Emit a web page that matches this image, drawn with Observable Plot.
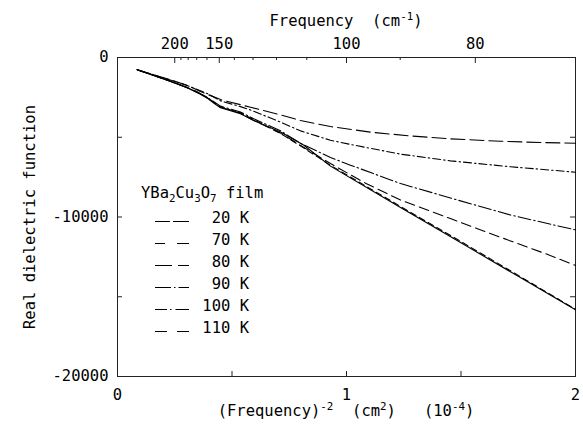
<!DOCTYPE html>
<html><head><meta charset="utf-8">
<script src="https://cdn.jsdelivr.net/npm/d3@7"></script>
<script src="https://cdn.jsdelivr.net/npm/@observablehq/plot@0.6"></script>
<style>
body{margin:0;background:#fff;}
#chart svg{font-family:"DejaVu Sans Mono",monospace;}
</style></head><body><div id="chart"></div>
<script>
// ---- data ----
const seriesNames = ["20 K","70 K","80 K","90 K","100 K","110 K"];
const x20 = [0.086,0.202,0.304,0.362,0.392,0.42,0.45,0.537,0.595,0.712,0.814,0.93,1.236,1.5,1.75,2];
const y20 = [-770,-1350,-1900,-2300,-2550,-2850,-3150,-3520,-3950,-4670,-5500,-6810,-9410,-11620,-13720,-15810];
const x70 = [0.086,0.202,0.304,0.362,0.392,0.42,0.45,0.537,0.595,0.712,0.814,0.93,1.236,1.5,1.75,2];
const y70 = [-770,-1320,-1870,-2260,-2510,-2800,-3100,-3470,-3900,-4760,-5680,-6760,-9340,-11540,-13660,-15790];
const x80 = [0.086,0.202,0.304,0.362,0.392,0.45,0.537,0.595,0.712,0.814,0.93,1.083,1.236,1.454,1.716,1.869,2];
const y80 = [-770,-1340,-1890,-2280,-2530,-3120,-3490,-3950,-4740,-5640,-6650,-7880,-8940,-10100,-11500,-12300,-13040];
const x90 = [0.086,0.202,0.304,0.362,0.392,0.45,0.537,0.595,0.712,0.799,0.93,1.017,1.236,1.454,1.716,2];
const y90 = [-770,-1340,-1880,-2270,-2500,-3050,-3420,-3840,-4600,-5380,-6270,-6750,-7900,-8810,-9875,-10810];
const x100 = [0.086,0.202,0.304,0.392,0.45,0.537,0.581,0.712,0.799,0.93,1.017,1.236,1.454,1.716,2];
const y100 = [-770,-1280,-1750,-2260,-2720,-3080,-3290,-4050,-4600,-5190,-5450,-6060,-6480,-6850,-7190];
const x110 = [0.086,0.202,0.304,0.362,0.45,0.581,0.712,0.799,0.93,1.105,1.279,1.454,1.672,1.847,2];
const y110 = [-770,-1270,-1740,-2130,-2640,-3120,-3600,-3950,-4330,-4680,-4920,-5100,-5250,-5330,-5375];

const freqMajor = [200,150,100,80];            // top axis labels (cm^-1)
const freqMinor = [190,180,170,160,140,130,120,110,90];
const xTickLabels = [0,1,2];
const xMinorTicks = [0.5,1,1.5];
const yTickLabels = [0,-10000,-20000];
const yMinorTicks = [-5000,-10000,-15000];

// text pieces: [text, shift] shift: 0 normal, 1 superscript, -1 subscript
const topTitle = [["Frequency  (cm",0],["-1",1],[")",0]];
const bottomTitle = [["(Frequency)",0],["-2",1],["  (cm",0],["2",1],[")   (10",0],["-4",1],[")",0]];
const legendTitle = [["YBa",0],["2",-1],["Cu",0],["3",-1],["O",0],["7",-1],[" film",0]];

// ---- build ----
const xsAll = [x20,x70,x80,x90,x100,x110];
const ysAll = [y20,y70,y80,y90,y100,y110];
const dashes = [null,"6,4","10,5","13,3,1.5,3","8,3,1.5,3","14,5"];
const legendDashes = ["15,3,16","10,12,12","17,6,12","16,3,1.5,3,12","12,3,1.5,4,14","12,10,12"];

const W=583,H=429,mL=117,mR=8,mT=57,mB=53;
const fw=W-mL-mR, fh=H-mT-mB;
const FS = 15.5;
const inv2 = f => 1e4/(f*f);

const lineMarks = seriesNames.map((name,i) => {
  const rows = xsAll[i].map((x,j)=>({x, y: ysAll[i][j], T: name}));
  return Plot.line(rows, {x:"x", y:"y", stroke:"black", strokeWidth:1.1,
    strokeDasharray: dashes[i] || undefined});
});

const chart = Plot.plot({
  width:W, height:H, marginLeft:mL, marginRight:mR, marginTop:mT, marginBottom:mB,
  style:{fontFamily:"DejaVu Sans Mono", fontSize:FS+"px", background:"white", color:"black", overflow:"visible"},
  x:{domain:[0,2]},
  y:{domain:[-20000,0]},
  marks:[
    Plot.frame({stroke:"#222", strokeWidth:1}),
    Plot.axisX({anchor:"bottom", ticks:xTickLabels, tickSize:0, tickPadding:12, label:null, fontSize:FS, tickFormat:d=>String(d)}),
    Plot.axisX({anchor:"top", ticks:freqMajor.map(inv2), tickSize:0, tickPadding:9, label:null, fontSize:FS,
      tickFormat:d=>String(Math.round(Math.sqrt(1e4/d)))}),
    Plot.axisY({anchor:"left", ticks:yTickLabels, tickSize:0, tickPadding:9, label:null, fontSize:FS, tickFormat:d=>String(d)}),
    Plot.tickX(xMinorTicks, {x:d=>d, insetTop:fh-5, stroke:"#222"}),
    Plot.tickX(freqMajor.map(inv2), {x:d=>d, insetBottom:fh-6, stroke:"#222"}),
    Plot.tickX(freqMinor.map(inv2), {x:d=>d, insetBottom:fh-3, stroke:"#222"}),
    Plot.tickY(yMinorTicks, {y:d=>d, insetRight:fw-5, stroke:"#222"}),
    Plot.tickY(yMinorTicks, {y:d=>d, insetLeft:fw-5, stroke:"#222"}),
    ...lineMarks,
    Plot.text(["Real dielectric function"], {frameAnchor:"left", dx:-87, rotate:-90, textAnchor:"middle", lineAnchor:"middle", fontSize:FS})
  ]
});
document.getElementById("chart").appendChild(chart);

// ---- titles with super/subscripts, and legend ----
const svg = d3.select(chart);
function richText(g, pieces, x, y, anchor){
  const t = g.append("text").attr("x",x).attr("y",y).attr("text-anchor",anchor)
    .attr("font-family","DejaVu Sans Mono").attr("font-size",FS).attr("fill","black");
  let prev = 0;
  pieces.forEach(([s,shift])=>{
    const off = shift===1 ? -6 : shift===-1 ? 4 : 0;
    t.append("tspan").text(s).attr("font-size", shift? FS*0.7 : FS).attr("dy", off-prev);
    prev = off;
  });
  return t;
}
const g = svg.append("g");
richText(g, topTitle, mL+fw/2, 26, "middle");
richText(g, bottomTitle, mL+fw/2, 416, "middle");
richText(g, legendTitle, 141, 198, "start");
seriesNames.forEach((name,i)=>{
  const cy = 217 + 22*i;
  g.append("text").attr("x",249).attr("y",cy+5.5).attr("text-anchor","end")
    .attr("font-family","DejaVu Sans Mono").attr("font-size",FS).text(name);
  g.append("line").attr("x1",155).attr("x2",189).attr("y1",cy+4.5).attr("y2",cy+4.5)
    .attr("stroke","black").attr("stroke-width",1).attr("stroke-dasharray",legendDashes[i]);
});
</script></body></html>
